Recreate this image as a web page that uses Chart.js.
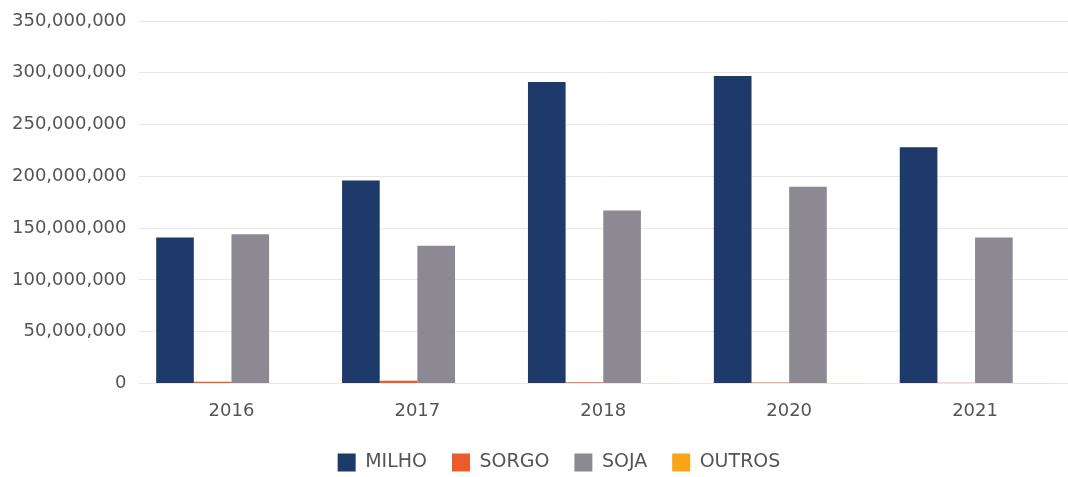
<!DOCTYPE html>
<html>
<head>
<meta charset="utf-8">
<script src="https://cdn.jsdelivr.net/npm/chart.js@4/dist/chart.umd.min.js"></script>
<style>
html,body{margin:0;padding:0;background:#fff;}
#wrap{width:1068px;height:477px;position:relative;}
</style>
</head>
<body>
<div id="wrap"><canvas id="c" width="1068" height="477"></canvas></div>
<script>
const categories = ["2016", "2017", "2018", "2020", "2021"];
const milho = [141000000, 196000000, 291000000, 297000000, 228000000];
const sorgo = [1500000, 2500000, 1000000, 800000, 600000];
const soja = [144000000, 133000000, 167000000, 190000000, 141000000];
const outros = [300000, 300000, 200000, 200000, 200000];
const yTicks = [0, 50000000, 100000000, 150000000, 200000000, 250000000, 300000000, 350000000];

const fontFam = "'DejaVu Sans', sans-serif";
const shiftLegend = {
  id: 'shiftLegend',
  afterLayout(chart) {
    const lg = chart.legend;
    if (lg) { lg.left += 25; lg.right += 25; lg.top -= 3; lg.bottom -= 3; }
  }
};
new Chart(document.getElementById('c'), {
  type: 'bar',
  data: {
    labels: categories,
    datasets: [
      {label: 'MILHO', data: milho, backgroundColor: '#1d3a6b'},
      {label: 'SORGO', data: sorgo, backgroundColor: '#ef5a2a'},
      {label: 'SOJA', data: soja, backgroundColor: '#8d8992'},
      {label: 'OUTROS', data: outros, backgroundColor: '#fba414'}
    ]
  },
  plugins: [shiftLegend],
  options: {
    responsive: false,
    animation: false,
    layout: {padding: {left: 0, right: 0, top: 5, bottom: 0}},
    datasets: {bar: {categoryPercentage: 0.81, barPercentage: 1.0}},
    plugins: {
      tooltip: {enabled: false},
      legend: {
        position: 'bottom',
        maxHeight: 46,
        labels: {
          boxWidth: 18, boxHeight: 18, padding: 25,
          color: '#555', font: {family: fontFam, size: 19}
        }
      }
    },
    scales: {
      x: {
        grid: {display: false},
        border: {display: false},
        ticks: {color: '#555', font: {family: fontFam, size: 18}, padding: 9}
      },
      y: {
        min: 0, max: 350000000,
        afterBuildTicks: (axis) => { axis.ticks = yTicks.map(v => ({value: v})); },
        grid: {color: '#e8e8e8', lineWidth: 1, drawTicks: false},
        border: {display: false},
        ticks: {
          color: '#555', font: {family: fontFam, size: 18, lineHeight: 1.0}, padding: 12,
          callback: (v) => v === 0 ? '0' : v.toLocaleString('en-US')
        }
      }
    }
  }
});
</script>
</body>
</html>
